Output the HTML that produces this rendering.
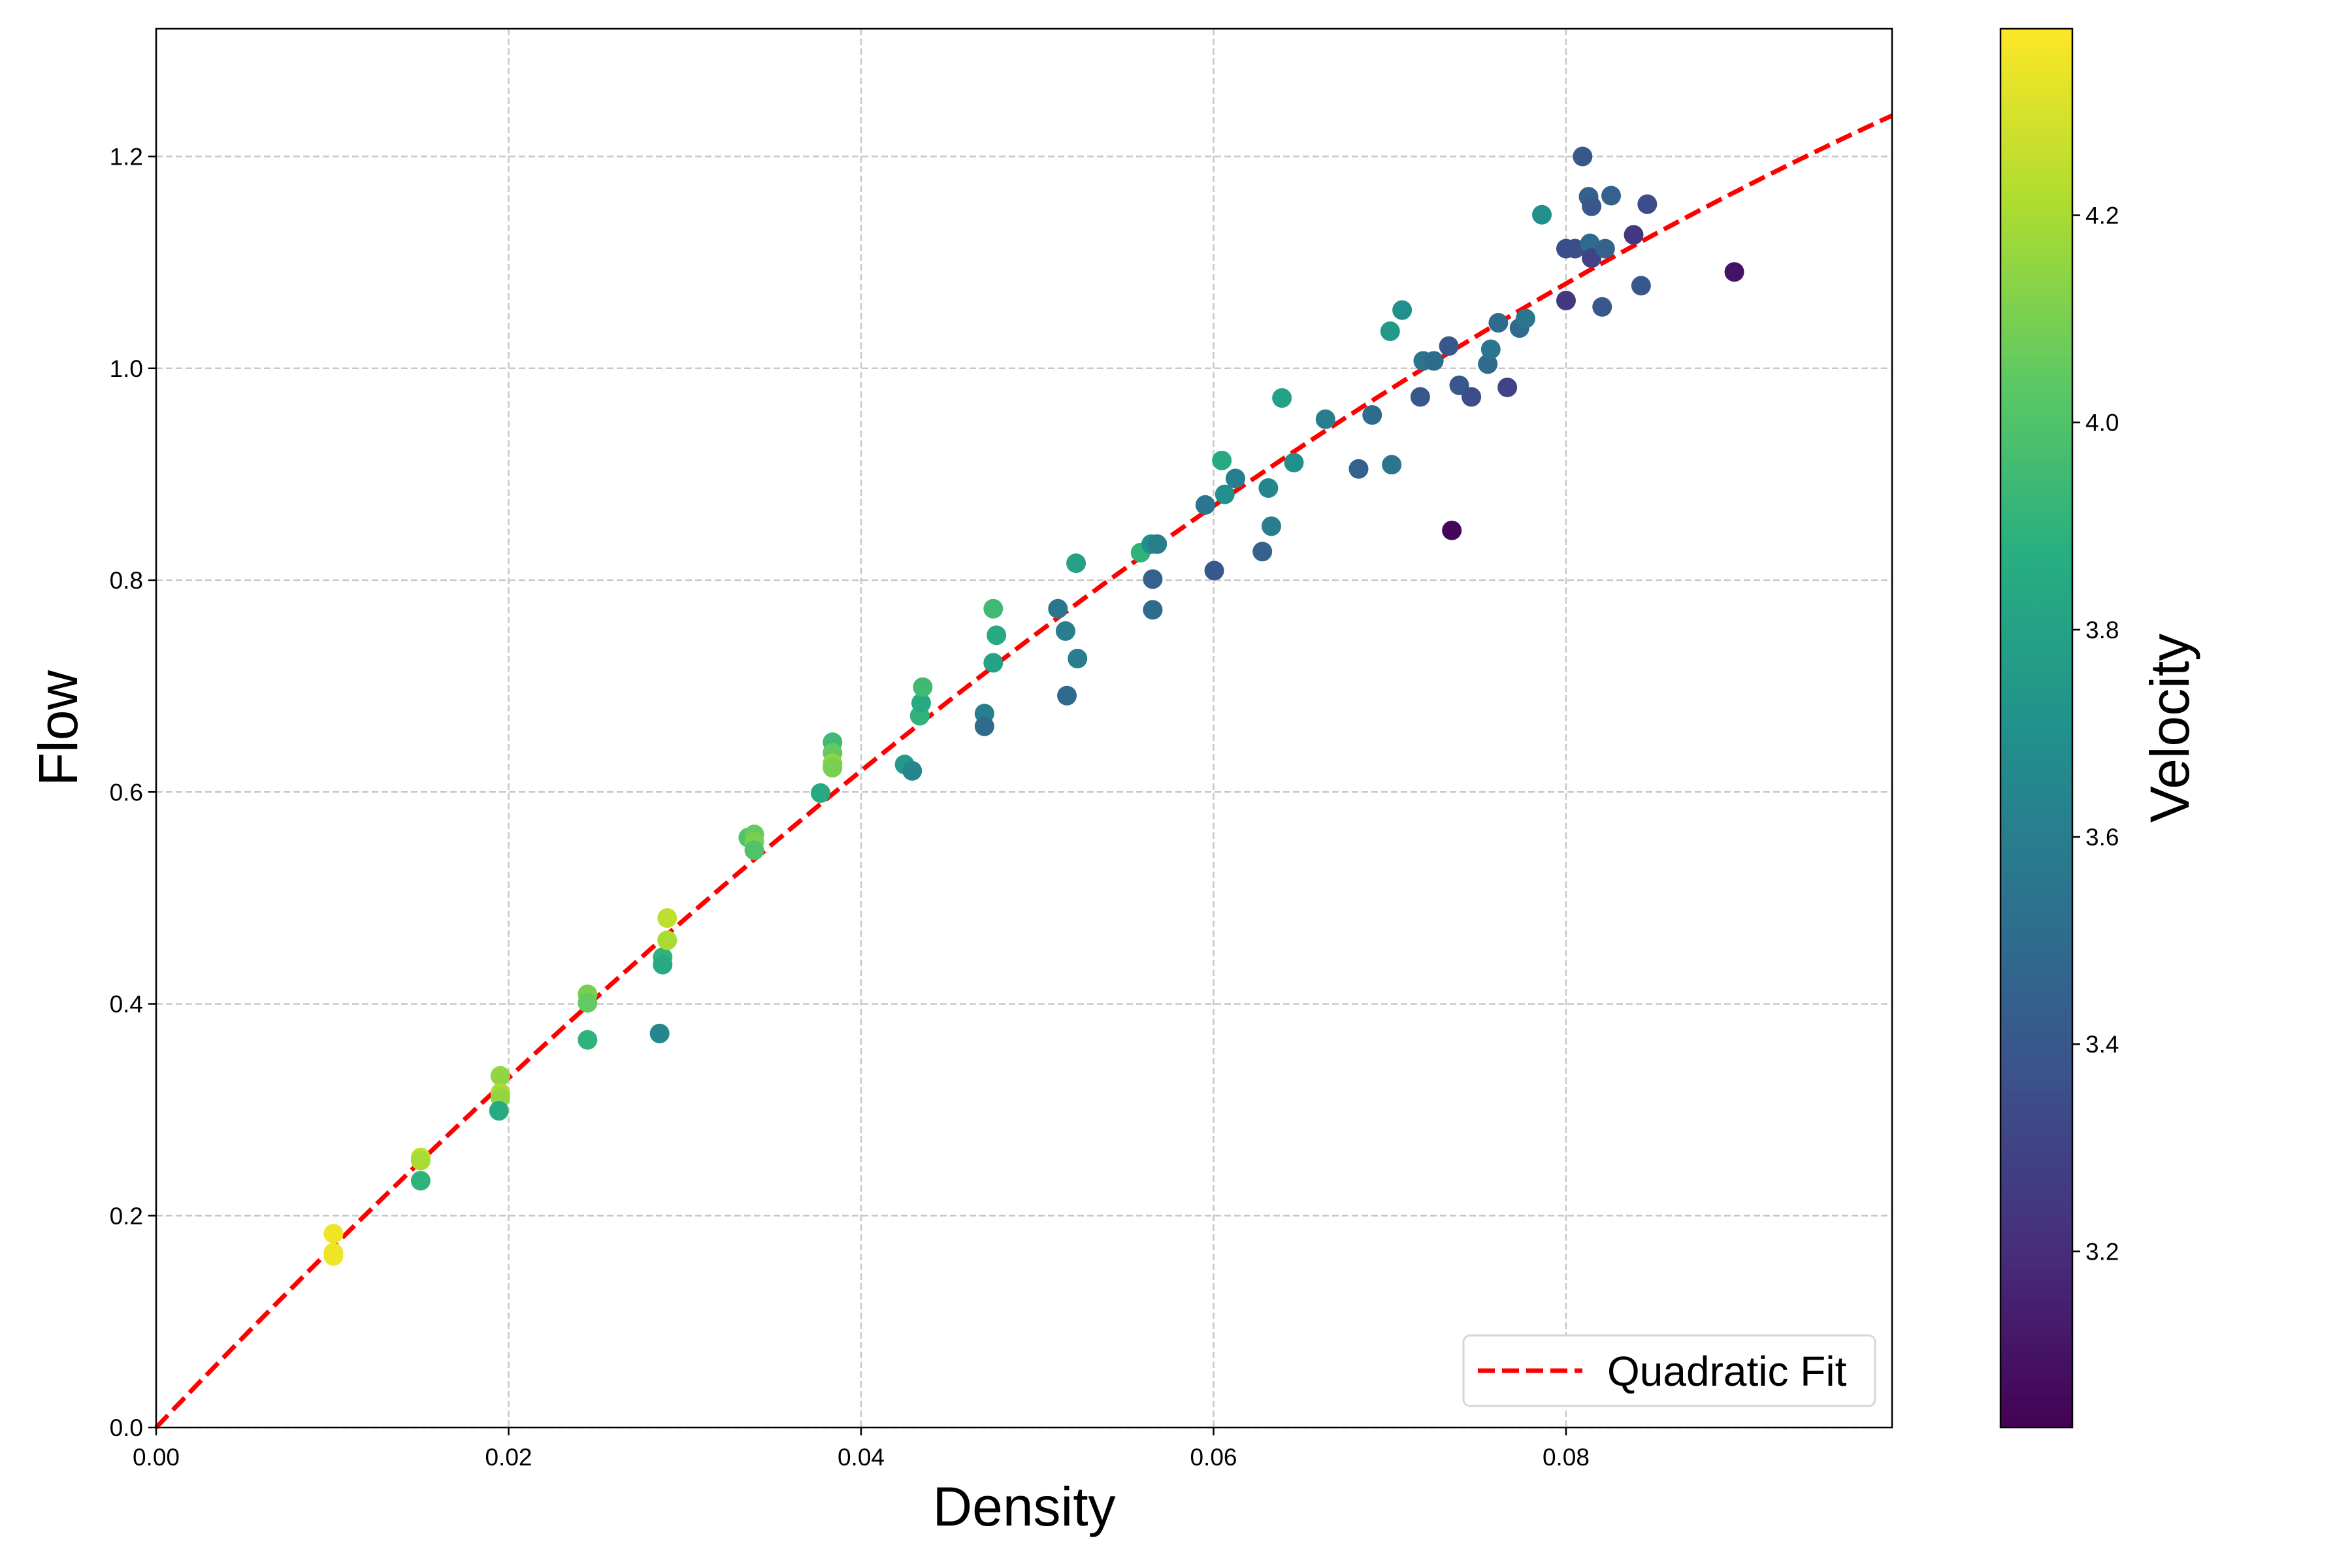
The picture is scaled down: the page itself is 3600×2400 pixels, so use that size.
<!DOCTYPE html>
<html><head><meta charset="utf-8"><style>
html,body{margin:0;padding:0;background:#fff}
svg{display:block;font-family:"Liberation Sans","DejaVu Sans",sans-serif}
</style></head><body>
<svg id="chart" width="3600" height="2400" viewBox="0 0 3600 2400" xmlns="http://www.w3.org/2000/svg">
<rect width="3600" height="2400" fill="#fff"/>
<g id="grid"></g>
<g id="fit"></g>
<g id="points"></g>
<g id="axes"></g>
<g id="cbar"></g>
<g id="legend"></g>
</svg>
<script>
const density=[0.01006,0.01006,0.01006,0.01501,0.01501,0.01501,0.01953,0.01953,0.01953,0.01945,0.02448,0.02448,0.02448,0.02857,0.02874,0.02874,0.0290,0.0290,0.0336,0.03394,0.03394,0.03394,0.0377,0.03838,0.03838,0.03838,0.03838,0.04247,0.0429,0.04333,0.04341,0.0435,0.047,0.047,0.0475,0.0475,0.04768,0.05117,0.0516,0.05168,0.0522,0.05228,0.05586,0.05646,0.0568,0.05655,0.05655,0.05953,0.06004,0.06047,0.06064,0.06124,0.06277,0.06311,0.06328,0.06388,0.06456,0.06635,0.06823,0.069,0.07002,0.07011,0.0707,0.07173,0.0719,0.0725,0.07335,0.07352,0.07394,0.07463,0.07556,0.07573,0.07616,0.07667,0.07736,0.0777,0.07863,0.08,0.08,0.08051,0.08094,0.08128,0.08136,0.08145,0.08145,0.08205,0.08222,0.08256,0.08384,0.08426,0.08461,0.08955];
const flow=[0.183,0.165,0.162,0.255,0.252,0.233,0.332,0.316,0.311,0.299,0.409,0.401,0.366,0.372,0.444,0.437,0.481,0.46,0.557,0.56,0.553,0.545,0.599,0.647,0.637,0.627,0.623,0.626,0.62,0.672,0.684,0.699,0.674,0.662,0.773,0.722,0.748,0.773,0.752,0.691,0.816,0.726,0.826,0.834,0.834,0.801,0.772,0.871,0.809,0.913,0.881,0.896,0.827,0.887,0.851,0.972,0.911,0.952,0.905,0.956,1.035,0.909,1.055,0.973,1.007,1.007,1.021,0.847,0.984,0.973,1.004,1.018,1.043,0.982,1.038,1.047,1.145,1.113,1.064,1.113,1.2,1.162,1.118,1.153,1.104,1.058,1.113,1.163,1.126,1.078,1.155,1.091];
const velocity=[4.35,4.35,4.35,4.25,4.2,3.9,4.15,4.2,4.15,3.85,4.1,4.05,3.9,3.65,3.9,3.85,4.25,4.2,4.0,4.05,4.1,4.0,3.85,3.95,4.05,4.15,4.1,3.75,3.65,3.9,3.85,3.95,3.6,3.5,3.95,3.8,3.85,3.55,3.6,3.5,3.8,3.6,3.9,3.7,3.6,3.45,3.5,3.55,3.4,3.85,3.7,3.6,3.45,3.65,3.6,3.8,3.7,3.6,3.45,3.5,3.75,3.55,3.7,3.4,3.55,3.5,3.4,3.05,3.4,3.35,3.5,3.55,3.5,3.3,3.5,3.55,3.7,3.35,3.25,3.35,3.4,3.45,3.5,3.4,3.3,3.4,3.45,3.45,3.25,3.4,3.35,3.1];
const xTicks=[0,0.02,0.04,0.06,0.08];
const xTickLabels=["0.00","0.02","0.04","0.06","0.08"];
const yTicks=[0,0.2,0.4,0.6,0.8,1.0,1.2];
const yTickLabels=["0.0","0.2","0.4","0.6","0.8","1.0","1.2"];
const cTicks=[3.2,3.4,3.6,3.8,4.0,4.2];
const cTickLabels=["3.2","3.4","3.6","3.8","4.0","4.2"];
const fitCoef=[0,17.5,-50];

const NS="http://www.w3.org/2000/svg";
const L=239,R=2896,T=44,B=2185;
const xMax=0.0985,yMax=1.3206,vMin=3.03,vMax=4.38;
const CX0=3062,CX1=3172;
const sx=v=>L+(v/xMax)*(R-L);
const sy=v=>B-(v/yMax)*(B-T);
const sc=v=>B-((v-vMin)/(vMax-vMin))*(B-T);
function mk(tag,attrs,parent,text){const e=document.createElementNS(NS,tag);for(const k in attrs)e.setAttribute(k,attrs[k]);if(text!==undefined)e.textContent=text;parent.appendChild(e);return e;}
const stops=[[0,[68,1,84]],[0.125,[71,45,123]],[0.25,[59,82,139]],[0.375,[44,114,142]],[0.5,[33,145,140]],[0.625,[40,174,128]],[0.75,[94,201,98]],[0.875,[173,220,48]],[1,[253,231,37]]];
function viridis(t){t=Math.max(0,Math.min(1,t));for(let i=0;i<stops.length-1;i++){const a=stops[i],b=stops[i+1];if(t<=b[0]){const f=(t-a[0])/(b[0]-a[0]);const c=a[1].map((v,j)=>Math.round(v+(b[1][j]-v)*f));return `rgb(${c[0]},${c[1]},${c[2]})`;}}return "rgb(253,231,37)";}

const grid=document.getElementById('grid');
xTicks.forEach(t=>{const g=mk('line',{x1:sx(t),x2:sx(t),y1:T,y2:B,stroke:'#c8c8c8','stroke-width':2.5,'stroke-dasharray':'10,5'},grid);

});
yTicks.forEach(t=>{const g=mk('line',{x1:L,x2:R,y1:sy(t),y2:sy(t),stroke:'#c8c8c8','stroke-width':2.5,'stroke-dasharray':'10,5'},grid);

});

const fit=document.getElementById('fit');
let d="";for(let i=0;i<=200;i++){const x=xMax*i/200;const y=fitCoef[0]+fitCoef[1]*x+fitCoef[2]*x*x;d+=(i?"L":"M")+sx(x).toFixed(1)+","+sy(y).toFixed(1);}
const fp=mk('path',{d:d,fill:'none',stroke:'#ff0000','stroke-width':7,'stroke-dasharray':'26,11'},fit);



const pts=document.getElementById('points');
density.forEach((x,i)=>{const c=mk('circle',{cx:sx(x),cy:sy(flow[i]),r:15,fill:viridis((velocity[i]-vMin)/(vMax-vMin))},pts);

});

const ax=document.getElementById('axes');
const fr=mk('rect',{x:L,y:T,width:R-L,height:B-T,fill:'none',stroke:'#000','stroke-width':2.5},ax);


xTicks.forEach((t,i)=>{mk('line',{x1:sx(t),x2:sx(t),y1:B,y2:B+12,stroke:'#000','stroke-width':2.5},ax);
const tx=mk('text',{x:sx(t),y:B+58,'font-size':37,'text-anchor':'middle'},ax,xTickLabels[i]);

});
yTicks.forEach((t,i)=>{mk('line',{x1:L-12,x2:L,y1:sy(t),y2:sy(t),stroke:'#000','stroke-width':2.5},ax);
const tx=mk('text',{x:L-20,y:sy(t)+13,'font-size':37,'text-anchor':'end'},ax,yTickLabels[i]);

});
const xl=mk('text',{x:(L+R)/2,y:2335,'font-size':84,'text-anchor':'middle'},ax,'Density');


const yl=mk('text',{x:118,y:(T+B)/2,'font-size':84,'text-anchor':'middle',transform:`rotate(-90 118 ${(T+B)/2})`},ax,'Flow');



const cb=document.getElementById('cbar');
const defs=mk('defs',{},cb);
const lg=mk('linearGradient',{id:'vg',x1:0,y1:1,x2:0,y2:0},defs);
stops.forEach(s=>mk('stop',{offset:s[0],'stop-color':`rgb(${s[1].join(',')})`},lg));
const cr=mk('rect',{x:CX0,y:T,width:CX1-CX0,height:B-T,fill:'url(#vg)',stroke:'#000','stroke-width':2.5},cb);


cTicks.forEach((t,i)=>{mk('line',{x1:CX1,x2:CX1+12,y1:sc(t),y2:sc(t),stroke:'#000','stroke-width':2.5},cb);
const tx=mk('text',{x:CX1+20,y:sc(t)+13,'font-size':37},cb,cTickLabels[i]);

});
const cl=mk('text',{x:3350,y:(T+B)/2,'font-size':84,'text-anchor':'middle',transform:`rotate(-90 3350 ${(T+B)/2})`},cb,'Velocity');



const lgG=document.getElementById('legend');
const lb=mk('rect',{x:2240,y:2044,width:630,height:108,rx:10,fill:'#fff',stroke:'#d6d6d6','stroke-width':3},lgG);


mk('line',{x1:2262,x2:2422,y1:2098,y2:2098,stroke:'#ff0000','stroke-width':7,'stroke-dasharray':'26,11'},lgG);
const lt=mk('text',{x:2460,y:2121,'font-size':64},lgG,'Quadratic Fit');


</script>
</body></html>
